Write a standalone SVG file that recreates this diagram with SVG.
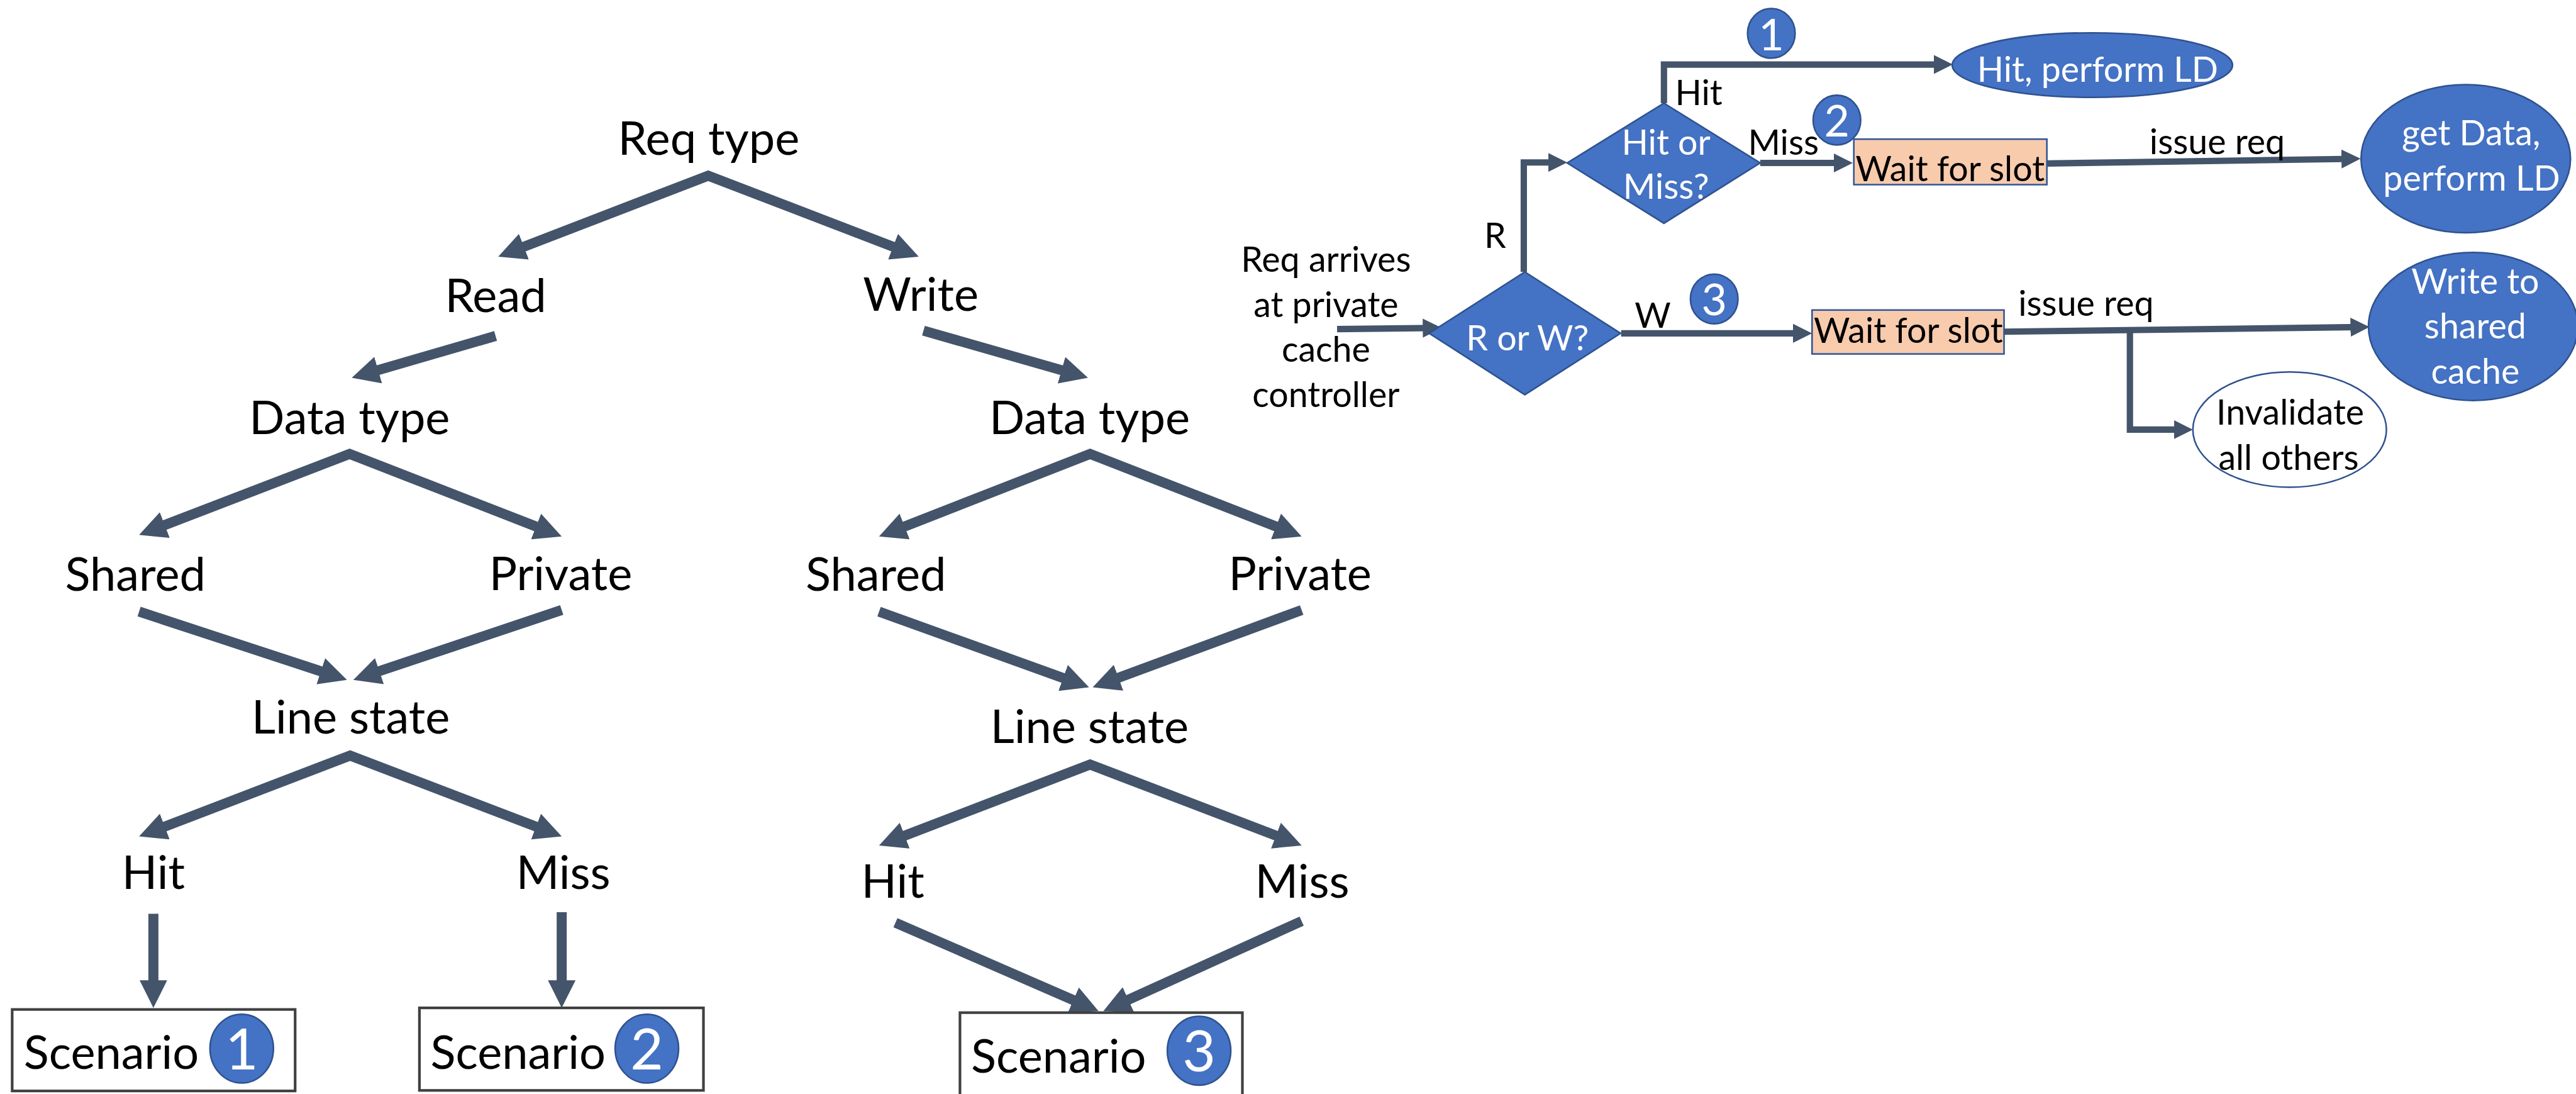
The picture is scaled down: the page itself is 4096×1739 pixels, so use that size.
<svg xmlns="http://www.w3.org/2000/svg" width="4096" height="1739" viewBox="0 0 4096 1739">
  <defs>
    <style>
      .lbl { font-family: Lato, "Open Sans", "Liberation Sans", sans-serif; fill: #000; }
      .big { font-size: 88px; }
      .sm { font-size: 66px; }
      .mid { text-anchor: middle; }
      .wt { fill: #fff; }
      .num { font-family: Lato, "Open Sans", "Liberation Sans", sans-serif; fill: #fff; text-anchor: middle; }
      .tree { fill: none; stroke: #44546A; stroke-width: 19; stroke-linejoin: miter; }
      .flow { fill: none; stroke: #44546A; stroke-width: 12; stroke-linejoin: miter; }
      .blue { fill: #4472C4; stroke: #2F528F; stroke-width: 3; }
      .slot { fill: #F8CBAD; stroke: #2F5597; stroke-width: 3; }
      .scen { fill: #fff; stroke: #404040; stroke-width: 5; }
      .hollow { fill: #fff; stroke: #2F528F; stroke-width: 3; }
    </style>
    <marker id="headL" markerUnits="userSpaceOnUse" viewBox="0 0 52 52" markerWidth="52" markerHeight="52" refX="28" refY="26" orient="auto-start-reverse">
      <path d="M0,0 L52,26 L0,52 z" fill="#44546A"/>
    </marker>
    <marker id="headS" markerUnits="userSpaceOnUse" viewBox="0 0 36 36" markerWidth="36" markerHeight="36" refX="20" refY="18" orient="auto-start-reverse">
      <path d="M0,0 L36,18 L0,36 z" fill="#44546A"/>
    </marker>
  </defs>

  <rect width="4096" height="1739" fill="#fff"/>

  <g transform="scale(0.841)">
    <!-- connectors -->
    <g id="connectors">
      <!-- decision tree -->
      <path class="tree" d="M964.4,476.4 L1339,332 L1714.6,476.4" marker-start="url(#headL)" marker-end="url(#headL)"/>
      <path class="tree" d="M937,635 L688.1,707.3" marker-end="url(#headL)"/>
      <path class="tree" d="M285.4,1002.4 L661,858 L1039.6,1005.3" marker-start="url(#headL)" marker-end="url(#headL)"/>
      <path class="tree" d="M263,1156 L633.2,1277.5" marker-end="url(#headL)"/>
      <path class="tree" d="M1062,1153 L690.8,1277.4" marker-end="url(#headL)"/>
      <path class="tree" d="M285.4,1572.4 L662,1428 L1039.6,1572.4" marker-start="url(#headL)" marker-end="url(#headL)"/>
      <path class="tree" d="M290,1727 L290,1881" marker-end="url(#headL)"/>
      <path class="tree" d="M1062,1724 L1062,1881" marker-end="url(#headL)"/>

      <path class="tree" d="M1746,625 L2033.9,707.4" marker-end="url(#headL)"/>
      <path class="tree" d="M1684.3,1005.3 L2061,858 L2438.6,1005.3" marker-start="url(#headL)" marker-end="url(#headL)"/>
      <path class="tree" d="M1662,1156 L2036.4,1290.9" marker-end="url(#headL)"/>
      <path class="tree" d="M2461,1153 L2088.5,1290.7" marker-end="url(#headL)"/>
      <path class="tree" d="M1684.4,1589.4 L2061,1445 L2438.6,1589.4" marker-start="url(#headL)" marker-end="url(#headL)"/>
      <path class="tree" d="M1693,1744 L2055,1901.4" marker-end="url(#headL)"/>
      <path class="tree" d="M2461,1741 L2107.9,1901.1" marker-end="url(#headL)"/>

      <!-- controller flow -->
      <path class="flow" d="M2528,622 L2710,620" marker-end="url(#headS)"/>
      <path class="flow" d="M2881,514 V307 H2947" marker-end="url(#headS)"/>
      <path class="flow" d="M3146,195 V122 H3676" marker-end="url(#headS)"/>
      <path class="flow" d="M3328,308 H3487" marker-end="url(#headS)"/>
      <path class="flow" d="M3065,630 H3410" marker-end="url(#headS)"/>
      <path class="flow" d="M3870,309 L4447,300.2" marker-end="url(#headS)"/>
      <path class="flow" d="M3789,627 L4464,618.2" marker-end="url(#headS)"/>
      <path class="flow" d="M4027,625 V812 H4130" marker-end="url(#headS)"/>
    </g>

    <!-- decision tree labels -->
    <g id="req-type"><text class="lbl big mid" x="1340" y="293">Req type</text></g>
    <g id="read"><text class="lbl big mid" x="937" y="590">Read</text></g>
    <g id="write"><text class="lbl big mid" x="1741" y="587">Write</text></g>
    <g id="data-type-r"><text class="lbl big mid" x="661" y="820">Data type</text></g>
    <g id="data-type-w"><text class="lbl big mid" x="2060" y="820">Data type</text></g>
    <g id="shared-r"><text class="lbl big mid" x="256" y="1116">Shared</text></g>
    <g id="private-r"><text class="lbl big mid" x="1060" y="1115">Private</text></g>
    <g id="shared-w"><text class="lbl big mid" x="1656" y="1116">Shared</text></g>
    <g id="private-w"><text class="lbl big mid" x="2458" y="1115">Private</text></g>
    <g id="line-state-r"><text class="lbl big mid" x="663" y="1387">Line state</text></g>
    <g id="line-state-w"><text class="lbl big mid" x="2060" y="1404">Line state</text></g>
    <g id="hit-r"><text class="lbl big mid" x="290" y="1680">Hit</text></g>
    <g id="miss-r"><text class="lbl big mid" x="1065" y="1680">Miss</text></g>
    <g id="hit-w"><text class="lbl big mid" x="1688" y="1697">Hit</text></g>
    <g id="miss-w"><text class="lbl big mid" x="2462" y="1697">Miss</text></g>

    <!-- scenario boxes -->
    <g id="scenario-1">
      <rect class="scen" x="23" y="1908" width="535" height="154"/>
      <text class="lbl big" x="45" y="2020">Scenario</text>
      <ellipse class="blue" cx="457" cy="1982" rx="60" ry="65"/>
      <text class="num" x="457" y="2021" font-size="108">1</text>
    </g>
    <g id="scenario-2">
      <rect class="scen" x="793" y="1905" width="537" height="156"/>
      <text class="lbl big" x="814" y="2020">Scenario</text>
      <ellipse class="blue" cx="1223" cy="1982" rx="60" ry="65"/>
      <text class="num" x="1223" y="2021" font-size="108">2</text>
    </g>
    <g id="scenario-3">
      <rect class="scen" x="1815" y="1914" width="534" height="170"/>
      <text class="lbl big" x="1836" y="2027">Scenario</text>
      <ellipse class="blue" cx="2267" cy="1986" rx="60" ry="65"/>
      <text class="num" x="2267" y="2025" font-size="108">3</text>
    </g>

    <!-- controller flow nodes -->
    <g id="req-arrives">
      <text class="lbl sm mid" x="2507" y="514">Req arrives</text>
      <text class="lbl sm mid" x="2507" y="599">at private</text>
      <text class="lbl sm mid" x="2507" y="684">cache</text>
      <text class="lbl sm mid" x="2507" y="769">controller</text>
    </g>
    <g id="r-or-w">
      <polygon class="blue" points="2883,514 3064,630 2883,746 2702,630"/>
      <text class="lbl sm mid wt" x="2888" y="662">R or W?</text>
    </g>
    <g id="label-r"><text class="lbl sm mid" x="2827" y="468">R</text></g>
    <g id="label-w"><text class="lbl sm mid" x="3125" y="620">W</text></g>
    <g id="hit-or-miss">
      <polygon class="blue" points="3146,195 3328,308 3146,422 2963,308"/>
      <text class="lbl sm mid wt" x="3150" y="293">Hit or</text>
      <text class="lbl sm mid wt" x="3150" y="376">Miss?</text>
    </g>
    <g id="label-hit"><text class="lbl sm" x="3167" y="198">Hit</text></g>
    <g id="label-miss"><text class="lbl sm" x="3305" y="293">Miss</text></g>

    <g id="badge-1">
      <ellipse class="blue" cx="3349" cy="63" rx="45" ry="47"/>
      <text class="num" x="3349" y="95" font-size="83">1</text>
    </g>
    <g id="badge-2">
      <ellipse class="blue" cx="3473" cy="227" rx="45" ry="47"/>
      <text class="num" x="3473" y="258" font-size="83">2</text>
    </g>
    <g id="badge-3">
      <ellipse class="blue" cx="3241" cy="565" rx="45" ry="47"/>
      <text class="num" x="3241" y="596" font-size="83">3</text>
    </g>

    <g id="wait-slot-read">
      <rect class="slot" x="3505" y="263" width="365" height="86"/>
      <text class="lbl sm mid" x="3687" y="343">Wait for slot</text>
    </g>
    <g id="wait-slot-write">
      <rect class="slot" x="3426" y="586" width="363" height="83"/>
      <text class="lbl sm mid" x="3608" y="648">Wait for slot</text>
    </g>
    <g id="issue-req-read"><text class="lbl sm mid" x="4192" y="291">issue req</text></g>
    <g id="issue-req-write"><text class="lbl sm mid" x="3944" y="597">issue req</text></g>

    <g id="hit-perform-ld">
      <ellipse class="blue" cx="3956" cy="123" rx="265" ry="61"/>
      <text class="lbl sm mid wt" x="3966" y="155">Hit, perform LD</text>
    </g>
    <g id="get-data">
      <ellipse class="blue" cx="4662" cy="300" rx="198" ry="140"/>
      <text class="lbl sm mid wt" x="4672" y="275">get Data,</text>
      <text class="lbl sm mid wt" x="4673" y="360">perform LD</text>
    </g>
    <g id="write-shared">
      <ellipse class="blue" cx="4676" cy="617" rx="198" ry="140"/>
      <text class="lbl sm mid wt" x="4680" y="555">Write to</text>
      <text class="lbl sm mid wt" x="4680" y="640">shared</text>
      <text class="lbl sm mid wt" x="4680" y="725">cache</text>
    </g>
    <g id="invalidate">
      <ellipse class="hollow" cx="4329" cy="812" rx="183" ry="109"/>
      <text class="lbl sm mid" x="4330" y="803">Invalidate</text>
      <text class="lbl sm mid" x="4327" y="888">all others</text>
    </g>
  </g>
</svg>
